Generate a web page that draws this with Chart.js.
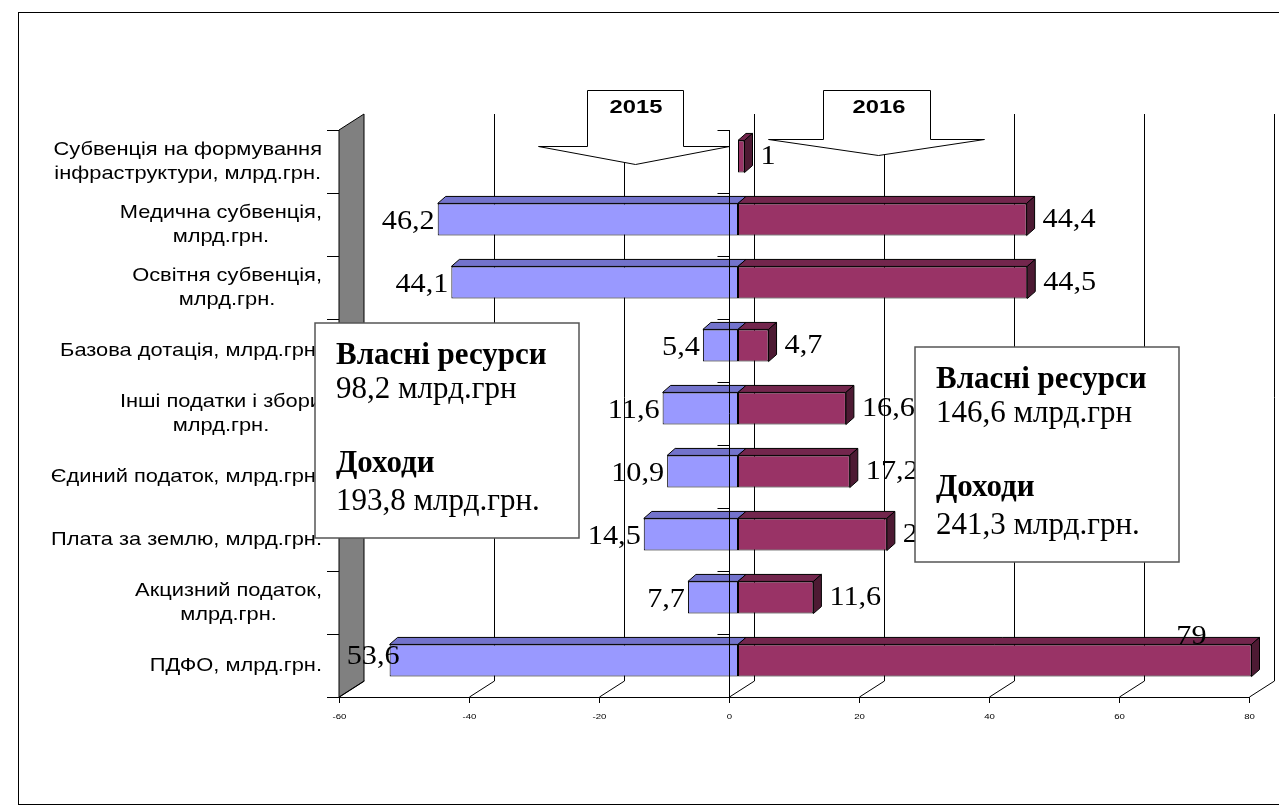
<!DOCTYPE html>
<html>
<head>
<meta charset="utf-8">
<script src="https://cdn.jsdelivr.net/npm/chart.js@4/dist/chart.umd.min.js"></script>
<style>
    html, body { margin: 0; padding: 0; background: #FFFFFF; }
    #wrap { position: relative; width: 1279px; height: 809px; }
</style>
</head>
<body>
<div id="wrap"><canvas id="budgetChart"></canvas></div>
<script>
// Chart data
const categories = [
    ['Субвенція на формування', 'інфраструктури, млрд.грн.'],
    ['Медична субвенція,', 'млрд.грн.'],
    ['Освітня субвенція,', 'млрд.грн.'],
    ['Базова дотація, млрд.грн.'],
    ['Інші податки і збори', 'млрд.грн.'],
    ['Єдиний податок, млрд.грн.'],
    ['Плата за землю, млрд.грн.'],
    ['Акцизний податок,', 'млрд.грн.'],
    ['ПДФО, млрд.грн.']
];
const values2015 = [null, 46.2, 44.1, 5.4, 11.6, 10.9, 14.5, 7.7, 53.6];
const values2016 = [1, 44.4, 44.5, 4.7, 16.6, 17.2, 22.9, 11.6, 79];
const xTicks = [-60, -40, -20, 0, 20, 40, 60, 80];
const seriesNames = ['2015', '2016'];
const boxLeftLines = ['Власні ресурси', '98,2 млрд.грн', '', 'Доходи', '193,8 млрд.грн.'];
const boxRightLines = ['Власні ресурси', '146,6 млрд.грн', '', 'Доходи', '241,3 млрд.грн.'];

const colors = {
    blue: '#9999FF',
    blueTop: '#7373CC',
    red: '#993366',
    redTop: '#73264D',
    redSide: '#4D1A33',
    wall: '#808080',
    line: '#000000',
    boxBorder: '#555555'
};

// 3D geometry (pixels): bars sit a little behind the front plane
const FRONT_DX = -9, FRONT_DY = 5;
const DEPTH_X = 25, DEPTH_Y = -16;
const BAR_DX = 8, BAR_DY = -7;

const SANS = '"Liberation Sans", Arial, sans-serif';
const SERIF = '"Liberation Serif", "Times New Roman", serif';

const fmt = v => String(v).replace('.', ',');

function line(ctx, x1, y1, x2, y2) {
    ctx.beginPath();
    ctx.moveTo(x1, y1);
    ctx.lineTo(x2, y2);
    ctx.stroke();
}

function poly(ctx, pts, fill, stroke) {
    ctx.beginPath();
    ctx.moveTo(pts[0][0], pts[0][1]);
    for (let i = 1; i < pts.length; i++) ctx.lineTo(pts[i][0], pts[i][1]);
    ctx.closePath();
    if (fill) { ctx.fillStyle = fill; ctx.fill(); }
    if (stroke) { ctx.strokeStyle = stroke; ctx.stroke(); }
}

// chart text in the original is a bit wider than the font, stretch it horizontally
function wideText(ctx, txt, x, y, sx) {
    ctx.save();
    ctx.translate(x, y);
    ctx.scale(sx, 1);
    ctx.fillText(txt, 0, 0);
    ctx.restore();
}

/**
 * Frame behind the bars: border, wall, back grid, floor, x ticks
 */
const framePlugin = {
    id: 'frame3d',
    beforeDatasetsDraw(chart) {
        const { ctx, chartArea: area } = chart;
        const xs = chart.scales.x, ys = chart.scales.y;
        const fx = v => xs.getPixelForValue(v) + FRONT_DX;
        const fTop = area.top + FRONT_DY;
        const fBottom = area.bottom + FRONT_DY;

        ctx.save();
        ctx.lineWidth = 1;
        ctx.strokeStyle = colors.line;

        // outer border
        ctx.strokeRect(18.5, 12.5, 1300, 792);

        // back grid lines
        xTicks.slice(1).forEach(v => {
            const x = Math.round(fx(v) + DEPTH_X) + 0.5;
            line(ctx, x, fTop + DEPTH_Y, x, fBottom + DEPTH_Y);
        });

        // left wall
        const wx = fx(xTicks[0]);
        poly(ctx, [
            [wx, fTop], [wx + DEPTH_X, fTop + DEPTH_Y],
            [wx + DEPTH_X, fBottom + DEPTH_Y], [wx, fBottom]
        ], colors.wall, colors.line);

        // category ticks on the wall
        for (let i = 0; i <= categories.length; i++) {
            const y = Math.round(ys.getPixelForValue(i - 0.5) + FRONT_DY) + 0.5;
            line(ctx, wx - 12, y, wx, y);
        }

        // floor front edge, depth lines, ticks and labels
        line(ctx, fx(xTicks[0]), fBottom + 0.5, fx(xTicks[xTicks.length - 1]), fBottom + 0.5);
        ctx.font = '8px ' + SANS;
        ctx.fillStyle = '#000';
        ctx.textAlign = 'center';
        ctx.textBaseline = 'middle';
        xTicks.forEach(v => {
            const x = Math.round(fx(v)) + 0.5;
            line(ctx, x, fBottom, x + DEPTH_X, fBottom + DEPTH_Y);
            line(ctx, x, fBottom, x, fBottom + 6);
            wideText(ctx, String(v), x, fBottom + 20, 1.2);
        });
        ctx.restore();
    }
};

/**
 * Everything drawn over the bars: 3D faces, zero axis, labels, arrows, boxes
 */
const overlayPlugin = {
    id: 'overlay3d',
    afterDatasetsDraw(chart) {
        const { ctx, chartArea: area } = chart;
        const xs = chart.scales.x, ys = chart.scales.y;
        const fx = v => xs.getPixelForValue(v) + FRONT_DX;
        const fTop = area.top + FRONT_DY;
        const fBottom = area.bottom + FRONT_DY;
        const wallRight = fx(xTicks[0]) + DEPTH_X;

        ctx.save();
        ctx.lineWidth = 1;
        ctx.strokeStyle = colors.line;

        // top and side faces
        chart.data.datasets.forEach((ds, d) => {
            chart.getDatasetMeta(d).data.forEach((bar, i) => {
                if (ds.data[i] == null) return;
                const left = Math.min(bar.x, bar.base), right = Math.max(bar.x, bar.base);
                const top = bar.y - bar.height / 2, bottom = bar.y + bar.height / 2;
                poly(ctx, [[left, top], [left + BAR_DX, top + BAR_DY], [right + BAR_DX, top + BAR_DY], [right, top]],
                    d === 0 ? colors.blueTop : colors.redTop, colors.line);
                if (d === 1) {
                    poly(ctx, [[right, top], [right + BAR_DX, top + BAR_DY], [right + BAR_DX, bottom + BAR_DY], [right, bottom]],
                        colors.redSide, colors.line);
                }
            });
        });

        // zero axis in front of the bars
        const zx = Math.round(fx(0)) + 0.5;
        line(ctx, zx, fTop, zx, fBottom);
        for (let i = 0; i <= categories.length; i++) {
            const y = Math.round(ys.getPixelForValue(i - 0.5) + FRONT_DY) + 0.5;
            line(ctx, zx - 12, y, zx, y);
        }

        // value labels
        const LSX = 1.08;
        ctx.font = '28px ' + SERIF;
        ctx.fillStyle = '#000';
        ctx.textBaseline = 'middle';
        chart.getDatasetMeta(0).data.forEach((bar, i) => {
            if (values2015[i] == null) return;
            const txt = fmt(values2015[i]);
            const w = ctx.measureText(txt).width * LSX;
            const left = Math.min(bar.x, bar.base);
            ctx.textAlign = 'right';
            if (left - 3 - w < wallRight - 10) {
                wideText(ctx, txt, left + 10, bar.y - 4, LSX);
            } else {
                wideText(ctx, txt, left - 3, bar.y + 2, LSX);
            }
        });
        chart.getDatasetMeta(1).data.forEach((bar, i) => {
            if (values2016[i] == null) return;
            const txt = fmt(values2016[i]);
            const w = ctx.measureText(txt).width * LSX;
            const right = Math.max(bar.x, bar.base);
            const xl = right + BAR_DX + 8;
            if (xl + w > area.right + 10) {
                ctx.textAlign = 'right';
                wideText(ctx, txt, right - 45, bar.y - bar.height / 2 - 8, LSX);
            } else {
                ctx.textAlign = 'left';
                wideText(ctx, txt, xl, bar.y, LSX);
            }
        });

        // year arrows
        const arrows = [
            { text: seriesNames[0], pts: [[587, 90], [683, 90], [683, 146], [729, 146], [635, 164], [538, 146], [587, 146]], tx: 636 },
            { text: seriesNames[1], pts: [[823, 90], [930, 90], [930, 139], [984, 139], [878, 155], [768, 139], [823, 139]], tx: 879 }
        ];
        ctx.font = 'bold 19px ' + SANS;
        ctx.textAlign = 'center';
        arrows.forEach(a => {
            poly(ctx, a.pts.map(p => [p[0] + 0.5, p[1] + 0.5]), '#FFFFFF', colors.line);
            ctx.fillStyle = '#000';
            wideText(ctx, a.text, a.tx, 108, 1.25);
        });

        // category labels: block right-aligned, lines centered in the block
        const CSX = 1.15;
        ctx.font = '19px ' + SANS;
        ctx.fillStyle = '#000';
        ctx.textAlign = 'center';
        categories.forEach((lines, i) => {
            const cy = ys.getPixelForValue(i) + FRONT_DY;
            const bw = Math.max(...lines.map(s => ctx.measureText(s).width)) * CSX;
            const cx = 322 - bw / 2;
            const lh = 24;
            lines.forEach((s, k) => {
                wideText(ctx, s, cx, cy + (k - (lines.length - 1) / 2) * lh, CSX);
            });
        });

        // summary boxes
        const drawBox = (x, y, lines) => {
            ctx.fillStyle = '#FFFFFF';
            ctx.fillRect(x, y, 264, 215);
            ctx.lineWidth = 1.5;
            ctx.strokeStyle = colors.boxBorder;
            ctx.strokeRect(x, y, 264, 215);
            ctx.fillStyle = '#000';
            ctx.textAlign = 'left';
            ctx.textBaseline = 'alphabetic';
            const baselines = [41, 75, 0, 149, 187];
            lines.forEach((s, k) => {
                if (!s) return;
                ctx.font = (k === 0 || k === 3 ? 'bold ' : '') + '31px ' + SERIF;
                ctx.fillText(s, x + 21, y + baselines[k]);
            });
        };
        drawBox(315, 323, boxLeftLines);
        drawBox(915, 347, boxRightLines);

        ctx.restore();
    }
};

const canvas = document.getElementById('budgetChart');
new Chart(canvas, {
    type: 'bar',
    data: {
        labels: categories,
        datasets: [
            {
                label: seriesNames[0],
                data: values2015.map(v => (v == null ? null : -v)),
                backgroundColor: colors.blue,
                borderColor: colors.line,
                borderWidth: 1,
                borderSkipped: false
            },
            {
                label: seriesNames[1],
                data: values2016,
                backgroundColor: colors.red,
                borderColor: colors.line,
                borderWidth: 1,
                borderSkipped: false
            }
        ]
    },
    options: {
        indexAxis: 'y',
        responsive: true,
        maintainAspectRatio: false,
        animation: false,
        layout: { padding: { left: 348, right: 21, top: 125, bottom: 117 } },
        datasets: { bar: { categoryPercentage: 1, barPercentage: 0.51 } },
        plugins: {
            legend: { display: false },
            tooltip: { enabled: false }
        },
        scales: {
            x: { type: 'linear', min: -60, max: 80, stacked: true, display: false },
            y: { stacked: true, display: false }
        }
    },
    plugins: [framePlugin, overlayPlugin]
});
</script>
</body>
</html>
